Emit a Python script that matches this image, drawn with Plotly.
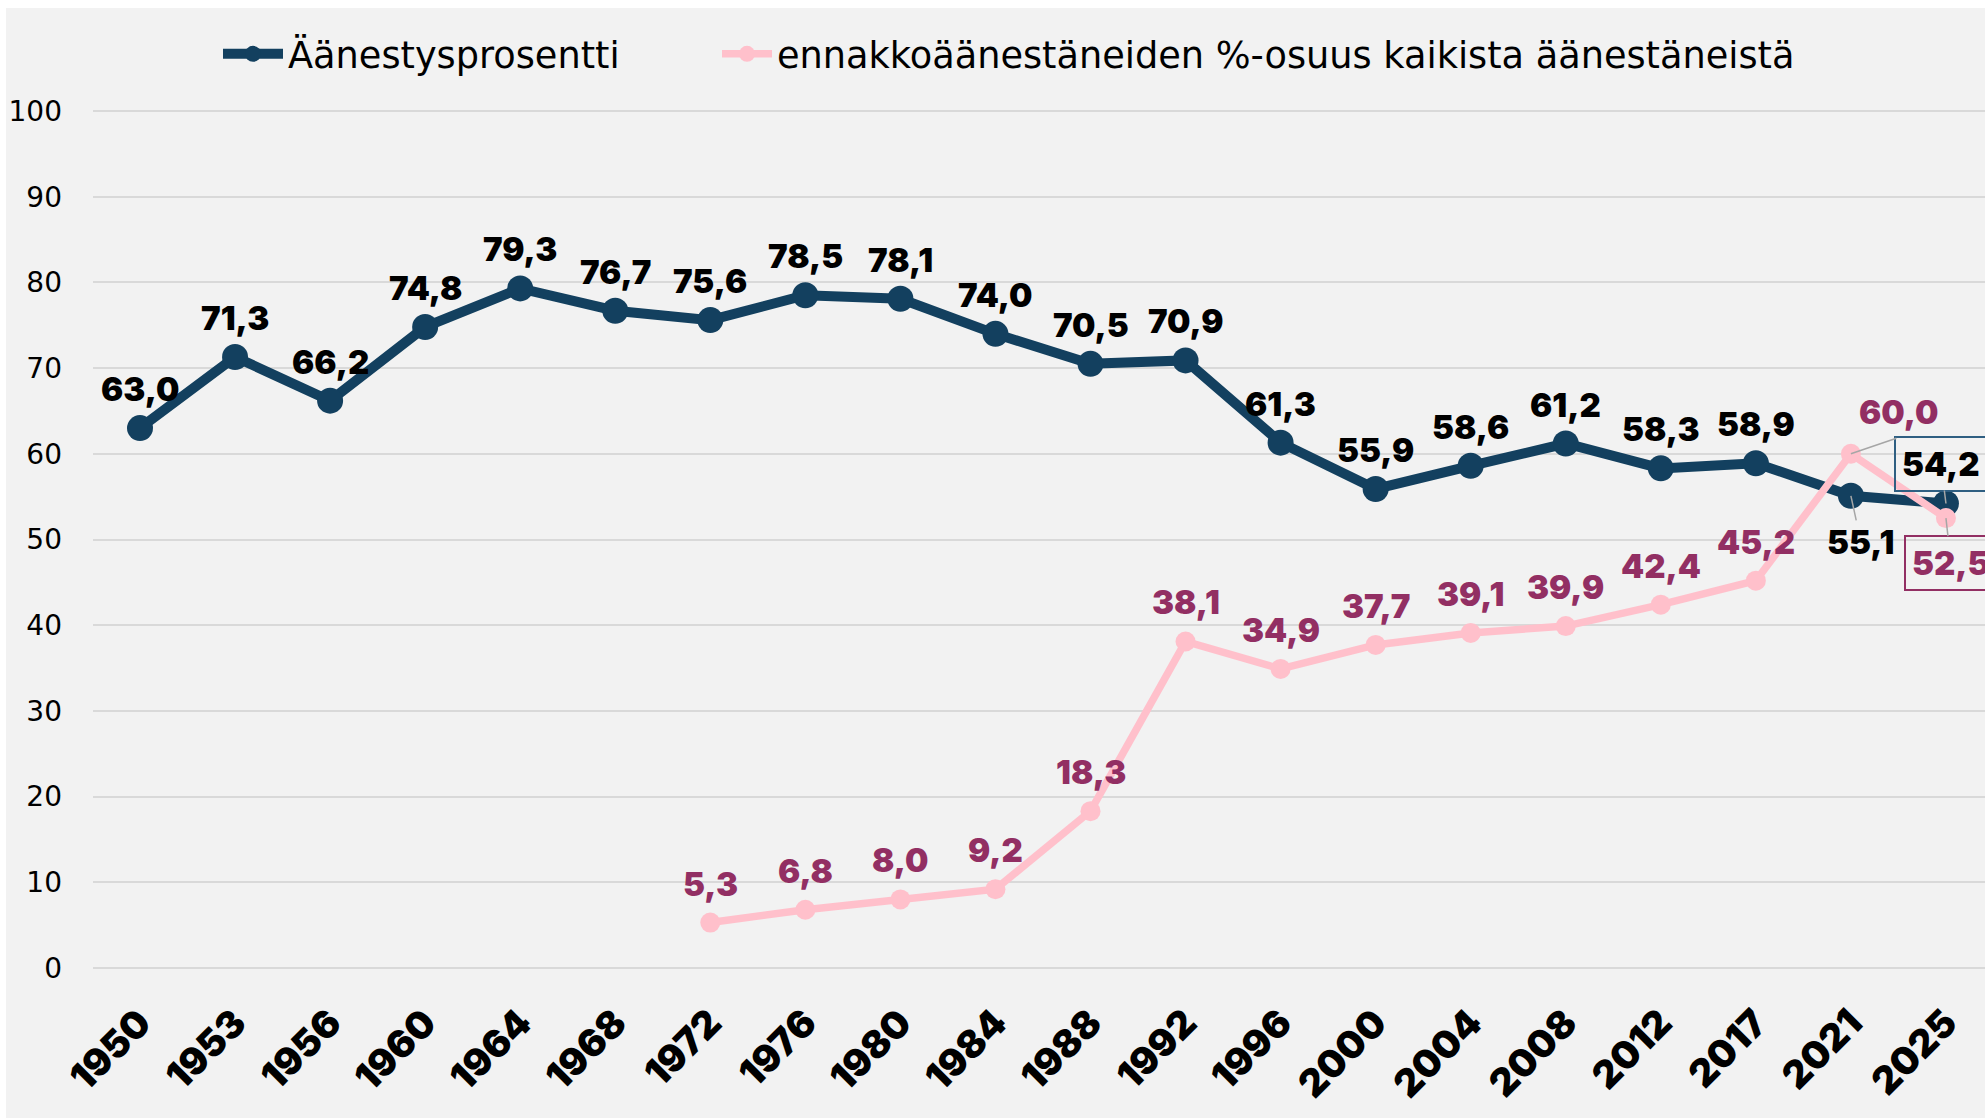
import plotly.graph_objects as go

# ---- data ----
years = ["1950", "1953", "1956", "1960", "1964", "1968", "1972", "1976", "1980", "1984",
         "1988", "1992", "1996", "2000", "2004", "2008", "2012", "2017", "2021", "2025"]
turnout = [63.0, 71.3, 66.2, 74.8, 79.3, 76.7, 75.6, 78.5, 78.1, 74.0,
           70.5, 70.9, 61.3, 55.9, 58.6, 61.2, 58.3, 58.9, 55.1, 54.2]
advance = [None, None, None, None, None, None, 5.3, 6.8, 8.0, 9.2,
           18.3, 38.1, 34.9, 37.7, 39.1, 39.9, 42.4, 45.2, 60.0, 52.5]
y_ticks = [0, 10, 20, 30, 40, 50, 60, 70, 80, 90, 100]

name_turnout = "Äänestysprosentti"
name_advance = "ennakkoäänestäneiden %-osuus kaikista äänestäneistä"

# ---- styles ----
NAVY = "#13405f"
PINK = "#ffc0cb"
PINK_TXT = "#922f63"
BG = "#f2f2f2"
GRID = "#d9d9d9"
LEADER = "#a6a6a6"
FONT = "DejaVu Sans"
HEAVY = "Inter"

W, H = 1985, 1118
ML, MR, MT, MB = 93, 0, 103, 142
plot_w = W - ML - MR
plot_h = H - MT - MB


def fmt(v):
    return f"{v:.1f}".replace(".", ",")


fig = go.Figure()
fig.add_trace(go.Scatter(
    x=years, y=turnout, name=name_turnout, mode="lines+markers",
    line=dict(color=NAVY, width=10), marker=dict(color=NAVY, size=26),
    legend="legend", hoverinfo="skip"))
fig.add_trace(go.Scatter(
    x=years, y=advance, name=name_advance, mode="lines+markers",
    line=dict(color=PINK, width=7.5), marker=dict(color=PINK, size=20),
    legend="legend2", hoverinfo="skip", connectgaps=False))

label_font = dict(family=HEAVY, size=33, weight=900)
annotations = []

# special placements (pixel offsets) for crowded points at the right end
special_turnout = {
    "2021": dict(showarrow=True, ax=10, ay=46),
    "2025": dict(showarrow=True, ax=-5, ay=-40, bordercolor="#2f5f82", borderwidth=2, borderpad=6),
}
special_advance = {
    "2021": dict(showarrow=False, xshift=48, yshift=42),
    "2025": dict(showarrow=True, ax=5, ay=45, bordercolor=PINK_TXT, borderwidth=2, borderpad=6),
}

for i, (yr, v) in enumerate(zip(years, turnout)):
    base = dict(x=i, y=v, text=fmt(v), font=dict(color="black", **label_font),
                arrowhead=0, arrowwidth=1.5, arrowcolor=LEADER, xref="x", yref="y")
    if yr in special_turnout:
        base.update(special_turnout[yr])
    else:
        base.update(showarrow=False, yshift=39)
    annotations.append(base)

for i, (yr, v) in enumerate(zip(years, advance)):
    if v is None:
        continue
    base = dict(x=i, y=v, text=fmt(v), font=dict(color=PINK_TXT, **label_font),
                arrowhead=0, arrowwidth=1.5, arrowcolor=LEADER, xref="x", yref="y")
    if yr in special_advance:
        base.update(special_advance[yr])
    else:
        base.update(showarrow=False, yshift=39)
    annotations.append(base)

# leader line from the 2021 advance-vote point
i21 = years.index("2021")
annotations.append(dict(x=i21, y=advance[i21], text="", showarrow=True,
                        ax=47, ay=-16, arrowhead=0, arrowwidth=1.5, arrowcolor=LEADER,
                        xref="x", yref="y"))

# axis geometry
step = 95.05
x0_px = 140
x_lo = -(x0_px - ML) / step
x_hi = x_lo + plot_w / step
px_per_unit = 8.56
y_lo = -(975 - 967) / px_per_unit
y_hi = 100 + (111 - MT) / px_per_unit

fig.update_layout(
    width=W, height=H,
    margin=dict(l=ML, r=MR, t=MT, b=MB, pad=0),
    paper_bgcolor=BG, plot_bgcolor=BG,
    font=dict(family=FONT, color="black"),
    showlegend=True,
    legend=dict(orientation="h", x=(218 - ML) / plot_w, xanchor="left",
                y=1 + (MT - 54) / plot_h, yanchor="middle",
                font=dict(family=FONT, size=36.7, color="black"),
                itemwidth=60, bgcolor="rgba(0,0,0,0)"),
    legend2=dict(orientation="h", x=(717 - ML) / plot_w, xanchor="left",
                 y=1 + (MT - 54) / plot_h, yanchor="middle",
                 font=dict(family=FONT, size=36.7, color="black"),
                 itemwidth=50, bgcolor="rgba(0,0,0,0)"),
    xaxis=dict(type="category", range=[x_lo, x_hi], showgrid=False, zeroline=False,
               showline=False, ticks="", tickangle=-45, automargin=False,
               tickfont=dict(family=HEAVY, size=38, color="black", weight=900),
               ticklabelstandoff=16),
    yaxis=dict(range=[y_lo, y_hi], tickvals=y_ticks, showgrid=True, gridcolor=GRID,
               gridwidth=2, zeroline=False, showline=False, ticks="", automargin=False,
               tickfont=dict(family=FONT, size=28, color="black"),
               ticklabelstandoff=30),
    annotations=annotations,
    shapes=[
        dict(type="rect", xref="paper", yref="paper",
             x0=-0.2, x1=1.2, y0=1 + (MT - 8) / plot_h, y1=1 + (MT + 10) / plot_h,
             fillcolor="white", line=dict(width=0), layer="below"),
        dict(type="rect", xref="paper", yref="paper",
             x0=-(ML + 10) / plot_w, x1=-(ML - 6) / plot_w, y0=-0.3, y1=1.3,
             fillcolor="white", line=dict(width=0), layer="below"),
    ],
)

fig.write_html("out.html", config={"displayModeBar": False},
               post_script="document.body.style.margin='0';document.body.style.overflow='hidden';")
